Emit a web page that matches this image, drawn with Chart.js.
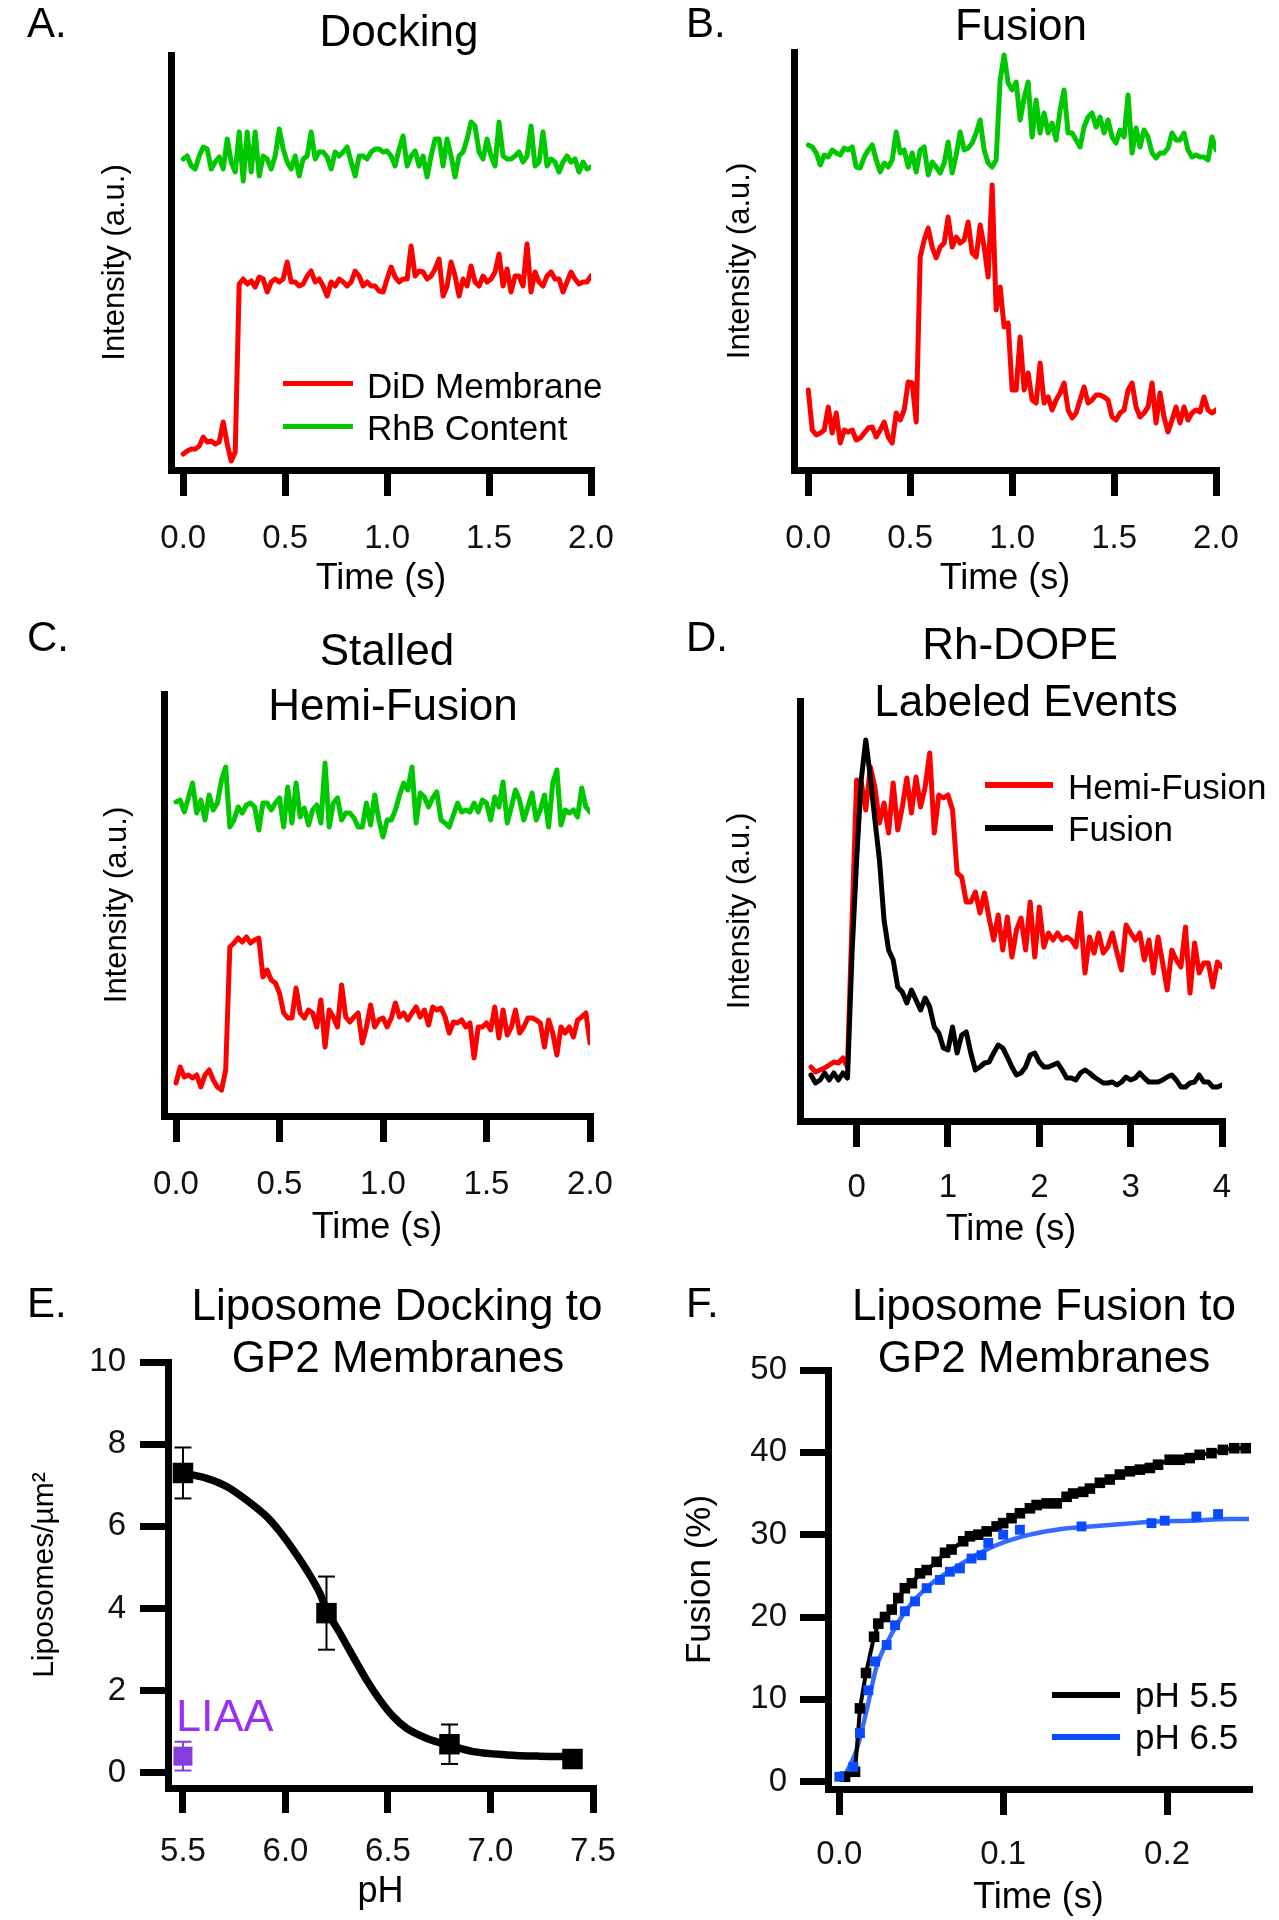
<!DOCTYPE html>
<html>
<head>
<meta charset="utf-8">
<title>Liposome docking and fusion traces</title>
<script src="https://cdn.jsdelivr.net/npm/chart.js@4.4.1/dist/chart.umd.min.js"></script>
<style>
  html, body { margin: 0; padding: 0; background: #fff; }
  #page { position: relative; width: 1279px; height: 1920px; overflow: hidden; background: #fff;
          font-family: 'Liberation Sans', Arial, Helvetica, sans-serif; color: #000; }
  #page canvas { position: absolute; }
  .txt { position: absolute; white-space: nowrap; line-height: 1; z-index: 2; }
  .ctr { transform: translateX(-50%); }
  .ln { position: absolute; z-index: 2; }
</style>
</head>
<body>
<div id="page">
  <canvas id="cA"></canvas>
  <canvas id="cB"></canvas>
  <canvas id="cC"></canvas>
  <canvas id="cD"></canvas>
  <canvas id="cE"></canvas>
  <canvas id="cF"></canvas>

  <!-- panel letters -->
  <div class="txt" style="left:27px;top:2px;font-size:42px">A.</div>
  <div class="txt" style="left:686px;top:2px;font-size:42px">B.</div>
  <div class="txt" style="left:27px;top:616px;font-size:42px">C.</div>
  <div class="txt" style="left:686px;top:616px;font-size:42px">D.</div>
  <div class="txt" style="left:27px;top:1282px;font-size:42px">E.</div>
  <div class="txt" style="left:686px;top:1282px;font-size:42px">F.</div>

  <!-- panel titles -->
  <div class="txt ctr" style="left:399px;top:9px;font-size:44px">Docking</div>
  <div class="txt ctr" style="left:1021px;top:3px;font-size:44px">Fusion</div>
  <div class="txt ctr" style="left:387px;top:628px;font-size:44px">Stalled</div>
  <div class="txt ctr" style="left:393px;top:683px;font-size:44px">Hemi-Fusion</div>
  <div class="txt ctr" style="left:1020px;top:622px;font-size:44px">Rh-DOPE</div>
  <div class="txt ctr" style="left:1026px;top:679px;font-size:44px">Labeled Events</div>
  <div class="txt ctr" style="left:397px;top:1283px;font-size:44px">Liposome Docking to</div>
  <div class="txt ctr" style="left:398px;top:1335px;font-size:44px">GP2 Membranes</div>
  <div class="txt ctr" style="left:1044px;top:1283px;font-size:44px">Liposome Fusion to</div>
  <div class="txt ctr" style="left:1044px;top:1335px;font-size:44px">GP2 Membranes</div>

  <!-- legend A -->
  <div class="ln" style="left:283px;top:381px;width:70px;height:5px;background:#ff0000"></div>
  <div class="txt" style="left:367px;top:368px;font-size:35px">DiD Membrane</div>
  <div class="ln" style="left:283px;top:424px;width:70px;height:5px;background:#00c800"></div>
  <div class="txt" style="left:367px;top:410px;font-size:35px">RhB Content</div>

  <!-- legend D -->
  <div class="ln" style="left:985px;top:782px;width:68px;height:6px;background:#ff0000"></div>
  <div class="txt" style="left:1068px;top:769px;font-size:35px">Hemi-Fusion</div>
  <div class="ln" style="left:985px;top:825px;width:68px;height:6px;background:#000"></div>
  <div class="txt" style="left:1068px;top:811px;font-size:35px">Fusion</div>

  <!-- legend F -->
  <div class="ln" style="left:1052px;top:1692px;width:68px;height:6px;background:#000"></div>
  <div class="txt" style="left:1135px;top:1677px;font-size:35px">pH 5.5</div>
  <div class="ln" style="left:1052px;top:1734px;width:68px;height:6px;background:#0a4bff"></div>
  <div class="txt" style="left:1135px;top:1719px;font-size:35px">pH 6.5</div>

  <!-- E annotation -->
  <div class="txt" style="left:176px;top:1693px;font-size:45px;color:#9b30f2">LIAA</div>
</div>

<script>
// ---------------- DATA ----------------
// Panel A (Docking) – intensity traces, 0–2 s
const greenA = [311,314,304,301,314,323,321,301,308,313,301,331,308,298,338,289,338,298,338,294,314,311,301,314,341,321,308,301,314,294,311,314,338,311,318,318,313,301,318,314,318,323,308,294,314,314,311,318,321,321,318,319,314,304,321,334,304,314,319,304,314,293,314,331,331,304,331,314,293,314,318,331,348,344,318,311,331,314,304,348,314,311,311,314,318,308,314,344,304,308,338,304,311,308,298,308,314,308,311,298,308,301,303];
const redA = [16,19,21,21,24,33,28,29,26,28,48,26,9,18,186,191,186,189,183,193,191,178,188,191,188,191,208,188,188,184,186,194,199,188,191,184,174,188,184,191,188,184,188,199,194,184,188,184,184,179,178,191,203,193,188,191,191,224,194,199,198,191,194,201,211,174,184,208,194,174,191,184,204,188,184,194,188,191,198,216,184,201,178,194,194,184,226,178,198,188,184,194,198,191,191,178,188,198,191,186,188,188,194];

// Panel B (Fusion) – 0–2 s
const greenB = [325,323,317,305,315,313,320,317,315,322,320,323,303,302,313,320,325,310,298,307,303,310,338,317,320,303,317,298,320,323,295,308,303,297,307,328,297,315,338,320,322,327,337,350,320,307,303,310,390,415,387,380,388,350,372,388,333,370,337,357,337,347,330,360,380,337,337,330,323,343,353,357,343,353,337,350,333,327,340,333,375,317,342,323,340,333,317,312,317,317,322,337,330,330,337,320,313,315,313,313,310,333,320];
const redB = [80,40,35,37,40,63,37,57,27,40,38,40,30,32,37,42,43,33,40,48,33,27,57,50,60,88,87,48,213,230,242,223,212,223,227,253,223,233,227,230,248,217,213,245,223,193,285,160,183,143,147,80,80,133,80,97,70,67,107,67,73,60,70,77,87,60,52,57,70,83,67,70,75,75,73,70,53,50,57,60,80,87,63,53,57,63,87,47,77,53,38,50,63,47,63,50,57,60,58,73,60,57,60];

// Panel C (Stalled Hemi-Fusion) – 0–2 s
const greenC = [314,316,304,318,333,303,316,296,321,306,313,336,349,289,296,309,303,311,313,309,286,313,313,306,313,318,289,329,293,333,299,308,291,306,311,293,353,289,313,318,296,303,303,298,289,289,313,291,321,296,279,296,296,306,321,333,326,349,293,323,319,309,318,324,296,293,289,301,313,304,306,304,313,304,316,313,296,319,309,334,293,309,326,316,296,309,323,296,306,321,289,333,346,291,306,303,306,299,328,309,304];
const redC = [33,49,39,41,38,41,29,41,46,36,29,26,46,169,173,178,174,179,173,176,178,139,146,136,133,123,103,98,98,128,103,98,106,103,89,116,69,106,99,89,131,99,94,99,103,73,89,111,89,96,98,89,98,113,99,103,96,103,109,99,106,91,109,106,108,99,83,94,93,96,89,93,58,89,89,93,86,109,78,106,81,89,106,83,89,98,98,96,93,69,96,83,61,89,83,89,79,96,99,103,73];

// Panel D (Rh-DOPE labeled events) – -0.5–4 s, 0.05 s frames
const hemiD = [54,49,51,53,56,59,58,63,54,201,341,339,311,354,334,298,318,288,338,291,314,343,308,344,314,334,368,288,326,323,326,311,248,244,219,219,229,208,228,203,181,206,171,204,164,191,203,171,219,164,214,174,188,181,188,181,184,181,174,208,148,184,168,188,168,174,188,168,151,196,188,181,188,161,181,148,184,158,131,171,161,154,194,128,178,148,158,158,134,159,154];
const fusionD = [46,38,41,48,41,48,41,48,43,168,261,341,381,344,301,261,201,171,161,134,129,118,131,121,111,123,114,94,88,73,71,94,68,86,89,68,51,54,58,59,68,76,73,64,54,46,48,54,66,68,59,54,54,56,58,51,43,43,41,48,51,48,44,41,38,38,39,36,39,44,41,43,48,43,39,39,39,41,44,46,41,34,34,38,39,46,39,39,34,34,36];
const startD = -0.5, frameD = 0.05;

// Panel E (Liposome docking vs pH)
const ePH   = [5.5, 6.2, 6.8, 7.4];
const eMean = [7.3, 3.89, 0.70, 0.34];
const eErr  = [0.62, 0.89, 0.48, 0.12];
const liaaPH = [5.5], liaaMean = [0.41], liaaErr = [0.35];
const eCurvePH  = [5.51,5.616,5.713,5.81,5.908,5.973,6.038,6.103,6.168,6.2,6.266,6.33,6.396,6.46,6.526,6.59,6.69,6.81,6.916,7.08,7.24,7.41];
const eCurveVal = [7.29,7.17,6.97,6.64,6.24,5.87,5.43,4.94,4.37,3.97,3.40,2.83,2.26,1.78,1.37,1.09,0.84,0.66,0.52,0.44,0.41,0.40];

// Panel F (Liposome fusion kinetics)
const fT55 = [0.0035,0.0096,0.0126,0.0163,0.0212,0.0238,0.0279,0.032,0.036,0.040,0.0443,0.0492,0.0533,0.0594,0.0645,0.0685,0.0756,0.0797,0.0848,0.0899,0.096,0.100,0.1051,0.1102,0.1163,0.1204,0.1265,0.1326,0.1387,0.1427,0.1488,0.1529,0.159,0.165,0.1712,0.1773,0.1834,0.1895,0.1945,0.2016,0.2077,0.2138,0.2199,0.2271,0.2341,0.241,0.248];
const fV55 = [0.6,1.2,8.9,13.2,17.6,19.2,20.0,20.9,22.3,23.5,24.1,25.3,25.7,26.7,27.8,28.2,29.2,29.8,30.0,30.4,31.0,31.4,32.0,32.6,33.2,33.6,33.8,33.8,34.6,35.0,35.2,35.6,36.3,36.7,37.3,37.7,37.9,38.1,38.5,39.1,39.1,39.3,39.7,39.9,40.3,40.5,40.5];
const fT65 = [0,0.0086,0.0126,0.0177,0.0218,0.0289,0.034,0.040,0.0462,0.0533,0.0614,0.0675,0.0736,0.0807,0.0868,0.0909,0.1,0.1102,0.1478,0.1905,0.1986,0.2179,0.2311];
const fV65 = [0.6,1.8,5.9,11.1,14.6,16.6,19.0,20.7,21.9,23.5,24.5,25.5,25.9,27.1,27.5,29.0,30.0,30.6,31.0,31.4,31.7,32.2,32.5];
const fFitT65 = [0.002,0.0106,0.0167,0.0228,0.031,0.0411,0.0553,0.0716,0.092,0.112,0.1326,0.153,0.173,0.1936,0.214,0.2385,0.25];
const fFitV65 = [0.2,3.9,8.7,14.0,17.6,20.9,23.9,26.1,28.4,29.8,30.6,31.0,31.3,31.6,31.7,31.9,31.9];

// Tick values and labels
const timeTicks2 = [0, 0.5, 1, 1.5, 2];
const timeLabels2 = ['0.0', '0.5', '1.0', '1.5', '2.0'];
const timeTicksD = [0, 1, 2, 3, 4];
const timeLabelsD = ['0', '1', '2', '3', '4'];
const phTicks = [5.5, 6, 6.5, 7, 7.5];
const phLabels = ['5.5', '6.0', '6.5', '7.0', '7.5'];
const dockTicks = [0, 2, 4, 6, 8, 10];
const dockLabels = ['0', '2', '4', '6', '8', '10'];
const fusTimeTicks = [0, 0.1, 0.2];
const fusTimeLabels = ['0.0', '0.1', '0.2'];
const fusTicks = [0, 10, 20, 30, 40, 50];
const fusLabels = ['0', '10', '20', '30', '40', '50'];

// ---------------- HELPERS ----------------
const FONT = "'Liberation Sans', Arial, Helvetica, sans-serif";
Chart.defaults.font.family = FONT;
Chart.defaults.color = '#000';
const TICK_FONT = 33, XTITLE_FONT = 36, TRACE_W = 5;

const pts = (xs, ys) => ys.map((y, i) => ({ x: xs[i], y }));
const evenTimes = (arr, t0, t1) => arr.map((_, i) => t0 + i * (t1 - t0) / (arr.length - 1));
const stepTimes = (arr, t0, dt) => arr.map((_, i) => t0 + i * dt);

function trace(data, color, width) {
  return { type: 'line', data, borderColor: color, borderWidth: width, pointRadius: 0,
           tension: 0, fill: false, borderJoinStyle: 'round', borderCapStyle: 'round' };
}

function build(id, geo, area, xs, ys, datasets) {
  const cv = document.getElementById(id);
  cv.width = geo.w; cv.height = geo.h;
  cv.style.left = geo.x + 'px'; cv.style.top = geo.y + 'px';
  cv.style.width = geo.w + 'px'; cv.style.height = geo.h + 'px';
  const yw = area.L - geo.x;
  const xh = geo.y + geo.h - area.B;
  const yScale = {
    type: 'linear', position: 'left', min: ys.min, max: ys.max,
    afterFit: s => { s.width = yw; },
    border: { display: true, width: 7, color: '#000' },
    title: { display: true, text: ys.title, color: '#000', font: { size: ys.titleSize },
             padding: { top: ys.titlePad, bottom: 0 } }
  };
  if (ys.ticks) {
    yScale.afterBuildTicks = s => { s.ticks = ys.ticks.map(v => ({ value: v })); };
    yScale.ticks = { display: true, padding: ys.tickPad, color: '#111', font: { size: TICK_FONT },
                     autoSkip: false, callback: (v, i) => ys.labels[i] };
    yScale.grid = { display: true, drawOnChartArea: false, drawTicks: true, tickLength: 28,
                    lineWidth: 7, color: '#000' };
  } else {
    yScale.ticks = { display: false };
    yScale.grid = { display: false };
  }
  return new Chart(cv, {
    type: 'line',
    data: { datasets },
    options: {
      responsive: false, animation: false, events: [],
      layout: { padding: { top: area.T - geo.y, right: geo.x + geo.w - area.R, left: 0, bottom: 0 } },
      plugins: { legend: { display: false }, tooltip: { enabled: false }, title: { display: false } },
      scales: {
        x: {
          type: 'linear', position: 'bottom', min: xs.min, max: xs.max,
          afterBuildTicks: s => { s.ticks = xs.ticks.map(v => ({ value: v })); },
          afterFit: s => { s.height = xh; },
          ticks: { display: true, autoSkip: false, maxRotation: 0, minRotation: 0,
                   padding: xs.tickPad, color: '#111', font: { size: TICK_FONT },
                   callback: (v, i) => xs.labels[i] },
          grid: { display: true, drawOnChartArea: false, drawTicks: true, tickLength: xs.tickLen || 26,
                  lineWidth: 7, color: '#000' },
          border: { display: true, width: 7, color: '#000' },
          title: { display: true, text: xs.title, color: '#000', font: { size: XTITLE_FONT },
                   padding: { top: 0, bottom: xs.titlePad } }
        },
        y: yScale
      }
    }
  });
}

// ---------------- PANELS ----------------
// A
{
  const t = evenTimes(redA, 0, 2);
  build('cA', { x: 0, y: 0, w: 640, h: 600 }, { L: 171, T: 55, R: 591, B: 470 },
    { min: -0.06, max: 2, ticks: timeTicks2, labels: timeLabels2, title: 'Time (s)', tickPad: 23, titlePad: -1 },
    { min: 0, max: 415, title: 'Intensity (a.u.)', titleSize: 31, titlePad: 97 },
    [ trace(pts(t, greenA), '#00c800', TRACE_W), trace(pts(t, redA), '#ff0000', TRACE_W) ]);
}
// B
{
  const t = evenTimes(redB, 0, 2);
  build('cB', { x: 640, y: 0, w: 639, h: 600 }, { L: 794, T: 52, R: 1216, B: 470 },
    { min: -0.07, max: 2, ticks: timeTicks2, labels: timeLabels2, title: 'Time (s)', tickPad: 23, titlePad: -1 },
    { min: 0, max: 418, title: 'Intensity (a.u.)', titleSize: 31, titlePad: 82 },
    [ trace(pts(t, greenB), '#00c800', TRACE_W), trace(pts(t, redB), '#ff0000', TRACE_W) ]);
}
// C
{
  const t = evenTimes(redC, 0, 2);
  build('cC', { x: 0, y: 600, w: 640, h: 660 }, { L: 164, T: 694, R: 590, B: 1116 },
    { min: -0.058, max: 2, ticks: timeTicks2, labels: timeLabels2, title: 'Time (s)', tickPad: 23, titlePad: 10 },
    { min: 0, max: 422, title: 'Intensity (a.u.)', titleSize: 31, titlePad: 99 },
    [ trace(pts(t, greenC), '#00c800', TRACE_W), trace(pts(t, redC), '#ff0000', TRACE_W) ]);
}
// D
{
  const t = stepTimes(hemiD, startD, frameD);
  build('cD', { x: 640, y: 600, w: 639, h: 660 }, { L: 800, T: 701, R: 1222, B: 1121 },
    { min: -0.62, max: 4, ticks: timeTicksD, labels: timeLabelsD, title: 'Time (s)', tickPad: 21, titlePad: 8 },
    { min: 0, max: 420, title: 'Intensity (a.u.)', titleSize: 31, titlePad: 82 },
    [ trace(pts(t, fusionD), '#000000', TRACE_W), trace(pts(t, hemiD), '#ff0000', TRACE_W) ]);
}
// E
{
  const sq = (xs, ys, color, r) => ({ type: 'line', data: pts(xs, ys), showLine: false, pointStyle: 'rect',
    pointRadius: r, pointBackgroundColor: color, pointBorderWidth: 0, clip: false });
  const bars = (xs, m, e, color) => xs.map((x, i) => ({
    type: 'line', data: [{ x, y: m[i] - e[i] }, { x, y: m[i] + e[i] }], borderColor: color, borderWidth: 2,
    pointStyle: 'line', pointRadius: 8.5, pointBorderWidth: 2, pointBorderColor: color, clip: false }));
  build('cE', { x: 0, y: 1260, w: 640, h: 660 }, { L: 168, T: 1362, R: 593, B: 1788 },
    { min: 5.427, max: 7.5, ticks: phTicks, labels: phLabels, title: 'pH', tickPad: 19, titlePad: 6, tickLen: 25 },
    { min: -0.365, max: 10, ticks: dockTicks, labels: dockLabels, tickPad: 14, title: 'Liposomes/µm²', titleSize: 30, titlePad: 27 },
    [ sq(ePH, eMean, '#000', 14.5), sq(liaaPH, liaaMean, '#8a3be0', 13.4),
      ...bars(ePH, eMean, eErr, '#000'), ...bars(liaaPH, liaaMean, liaaErr, '#8a3be0'),
      { type: 'line', data: pts(eCurvePH, eCurveVal), borderColor: '#000', borderWidth: 7.5, pointRadius: 0,
        cubicInterpolationMode: 'monotone', fill: false } ]);
}
// F
{
  build('cF', { x: 640, y: 1260, w: 639, h: 660 }, { L: 828, T: 1370, R: 1249, B: 1789 },
    { min: -0.0069, max: 0.25, ticks: fusTimeTicks, labels: fusTimeLabels, title: 'Time (s)', tickPad: 20, titlePad: 0 },
    { min: -0.89, max: 50, ticks: fusTicks, labels: fusLabels, tickPad: 13, title: 'Fusion (%)', titleSize: 35, titlePad: 39 },
    [ { type: 'line', data: pts(fT65, fV65), showLine: false, pointStyle: 'rect', pointRadius: 7,
        pointBackgroundColor: '#0a4bff', pointBorderWidth: 0, clip: false },
      { type: 'line', data: pts(fT55, fV55), borderColor: '#000', borderWidth: 4, pointStyle: 'rect',
        pointRadius: 7.5, pointBackgroundColor: '#000', pointBorderWidth: 0, tension: 0, clip: false },
      { type: 'line', data: pts(fFitT65, fFitV65), borderColor: 'rgba(20,80,255,0.85)', borderWidth: 4.5,
        pointRadius: 0, cubicInterpolationMode: 'monotone', fill: false } ]);
}
</script>
</body>
</html>
